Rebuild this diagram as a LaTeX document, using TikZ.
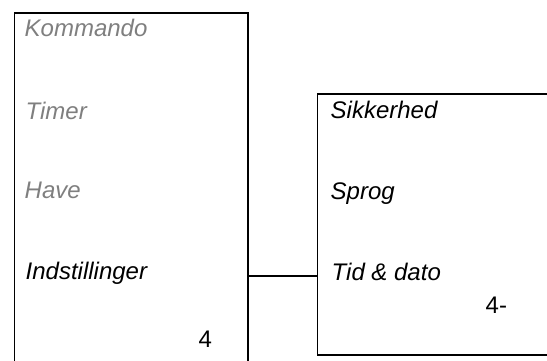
\documentclass[tikz,border=0pt]{standalone}
\usepackage{fontspec}
\usepackage{tikz}
\setmainfont{Liberation Sans}
\definecolor{MenuGray}{HTML}{7F7F7F}
\definecolor{MenuBlack}{HTML}{000000}

\begin{document}
\begin{tikzpicture}[x=1pt, y=-1pt,
        panel/.style={draw, line width=1.8pt, inner sep=0pt, outer sep=0pt},
        item/.style={anchor=base west, inner sep=0pt, font=\fontsize{24}{27}\selectfont\itshape},
        num/.style={anchor=base west, inner sep=0pt, font=\fontsize{24}{27}\selectfont}]
        \useasboundingbox (0,0) rectangle (547,361);
        \clip (0,0) rectangle (547,361);
        \node (Menu) [panel, minimum width=233.5pt, minimum height=370pt] at (131.25,198.3) {};
        \node (Indst) [panel, minimum width=290pt, minimum height=261pt] at (462.5,224.5) {};
        \node (Kommando) [item, text=MenuGray] at (24.5,37) {Kommando};
        \node (Timer) [item, text=MenuGray] at (25.5,120) {Timer};
        \node (Have) [item, text=MenuGray] at (24.5,198) {Have};
        \node (Indstillinger) [item, text=MenuBlack] at (25.5,279) {Indstillinger};
        \node (MenuNr) [num] at (198.5,347) {4};
        \node (Sikkerhed) [item] at (330.5,118) {Sikkerhed};
        \node (Sprog) [item] at (330.5,200) {Sprog};
        \node (Tid) [item] at (331.5,280) {Tid \& dato};
        \node (IndstNr) [num] at (485.5,313) {4-};
        \coordinate (link) at (0,275.7);
        \draw [line width=1.8pt] (Menu.east |- link) -- (Indst.west |- link);
    \end{tikzpicture}
\end{document}
